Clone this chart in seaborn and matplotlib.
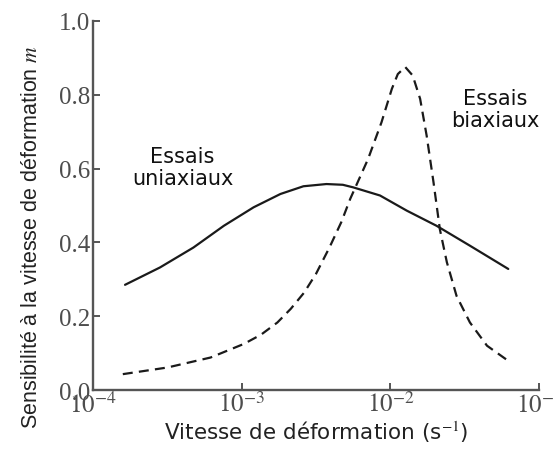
import numpy as np
import pandas as pd
import matplotlib
matplotlib.use("Agg")
import matplotlib.pyplot as plt
import matplotlib.ticker as mticker
import seaborn as sns

# courbes (log10 de la vitesse, m)
uni_log_rate = [-3.785, -3.55, -3.325, -3.12, -2.92, -2.74, -2.585, -2.43,
                -2.32, -2.25, -2.07, -1.89, -1.69, -1.465, -1.207]
uni_m = [0.285, 0.332, 0.386, 0.445, 0.495, 0.531, 0.552, 0.558,
         0.556, 0.549, 0.527, 0.486, 0.445, 0.391, 0.328]

bi_log_rate = [-3.80, -3.50, -3.21, -2.985, -2.87, -2.76, -2.67, -2.58, -2.50,
               -2.41, -2.33, -2.27, -2.24, -2.15, -2.06, -1.99, -1.95, -1.90,
               -1.85, -1.80, -1.756, -1.71, -1.667, -1.62, -1.555, -1.465,
               -1.35, -1.207]
bi_m = [0.043, 0.061, 0.088, 0.125, 0.150, 0.183, 0.220, 0.264, 0.315,
        0.386, 0.455, 0.518, 0.545, 0.626, 0.725, 0.816, 0.856, 0.875,
        0.852, 0.789, 0.689, 0.563, 0.435, 0.346, 0.255, 0.183,
        0.120, 0.079]

y_ticks = [0.0, 0.2, 0.4, 0.6, 0.8, 1.0]
x_ticks = [1e-4, 1e-3, 1e-2, 1e-1]
x_tick_labels = [r"$10^{-4}$", r"$10^{-3}$", r"$10^{-2}$", r"$10^{-1}$"]

df_uni = pd.DataFrame({"rate": np.power(10.0, uni_log_rate), "m": uni_m})
df_bi = pd.DataFrame({"rate": np.power(10.0, bi_log_rate), "m": bi_m})

sns.set_style("ticks")
plt.rcParams['font.family'] = ['DejaVu Sans']
plt.rcParams['mathtext.fontset'] = 'stix'

fig = plt.figure(figsize=(5.54, 4.56), dpi=100)
ax = fig.add_axes([0.168, 0.1425, 0.805, 0.8095])

sns.lineplot(data=df_uni, x="rate", y="m", ax=ax, color="#1a1a1a", lw=1.6,
             estimator=None, sort=False)
sns.lineplot(data=df_bi, x="rate", y="m", ax=ax, color="#1a1a1a", lw=1.6,
             estimator=None, sort=False, linestyle=(0, (4.5, 2.8)))

ax.set_xscale("log")
ax.set_xlim(1e-4, 1e-1)
ax.set_ylim(0, 1.0)
ax.set_xticks(x_ticks)
ax.xaxis.set_minor_locator(mticker.NullLocator())
ax.set_xticklabels(x_tick_labels)
ax.set_yticks(y_ticks)
ax.set_yticklabels(["%.1f" % v for v in y_ticks])

for lab in ax.get_yticklabels() + ax.get_xticklabels():
    lab.set_fontfamily("Liberation Serif")
    lab.set_fontsize(18)
    lab.set_color("#4d4d4d")

ax.tick_params(direction="in", length=5, width=1.4, color="#555555")
ax.tick_params(axis="x", pad=1)
ax.tick_params(axis="y", pad=2)
for side in ["left", "bottom"]:
    ax.spines[side].set_linewidth(1.7)
    ax.spines[side].set_color("#555555")
sns.despine(ax=ax)

ax.set_xlabel("Vitesse de déformation (s$^{-1}$)", fontsize=15.5,
              color="#222222", va="center")
ax.xaxis.set_label_coords(0.5, -0.111)
ax.set_ylabel("Sensibilité à la vitesse de déformation $m$", fontsize=15.5,
              color="#222222", va="center", family="Liberation Sans")
ax.yaxis.set_label_coords(-0.137, 0.417)

ax.text(4.0e-4, 0.604, "Essais\nuniaxiaux", ha="center", va="center",
        fontsize=15, color="#111111", linespacing=1.1)
ax.text(5.05e-2, 0.762, "Essais\nbiaxiaux", ha="center", va="center",
        fontsize=15, color="#111111", linespacing=1.1)

fig.savefig("out.png", dpi=100)
